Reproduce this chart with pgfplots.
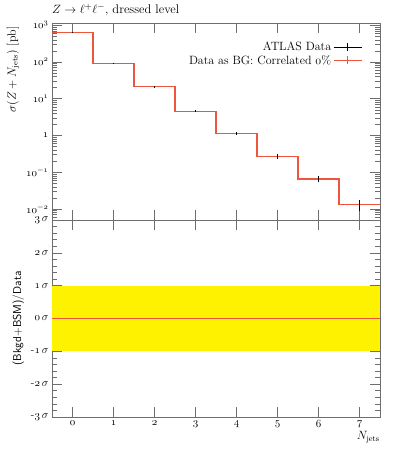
\documentclass[border=0pt]{standalone}
\usepackage{amsmath}
\usepackage{pgfplots}
\pgfplotsset{compat=1.18}
\definecolor{rivred}{RGB}{238,85,60}
\definecolor{axgray}{RGB}{110,110,110}
\pgfplotsset{crosslegend/.style={legend image code/.code={\draw[##1] (0pt,0pt) -- (28pt,0pt); \draw[##1] (14pt,-4pt) -- (14pt,4pt);}}}
\begin{document}
\begin{tikzpicture}
\useasboundingbox (-52pt,-33pt) rectangle (340pt,417pt);
\pgfplotsset{
  every axis/.append style={
    scale only axis, width=328pt, height=197pt,
    xmin=-0.5, xmax=7.5,
    axis line style={axgray},
    every tick/.style={axgray, line width=0.5pt},
    major tick length=10pt, minor tick length=5pt,
    tick align=inside, xtick pos=both, ytick pos=both,
    xtick={0,...,7},
    tick label style={font=\fontsize{11}{13}\selectfont},
  }
}
% lower panel
\begin{axis}[name=lower, at={(0pt,0pt)}, anchor=south west,
  ymin=-3, ymax=3, ytick={-3,...,3}, minor y tick num=4,
  yticklabels={{-$\mathnormal{3}\,\sigma$},{-$\mathnormal{2}\,\sigma$},{-$\mathnormal{1}\,\sigma$},{$\mathnormal{0}\,\sigma$},{$\mathnormal{1}\,\sigma$},{$\mathnormal{2}\,\sigma$},{$\mathnormal{3}\,\sigma$}},
  xticklabels={$\mathnormal{0}$,$\mathnormal{1}$,$\mathnormal{2}$,$\mathnormal{3}$,$\mathnormal{4}$,$\mathnormal{5}$,$\mathnormal{6}$,$\mathnormal{7}$},
  xlabel={$N_{\text{jets}}$},
  xlabel style={at={(rel axis cs:1,0)}, anchor=north east, yshift=-14pt, inner sep=0pt, font=\fontsize{12}{14}\selectfont},
  ylabel={\sffamily (Bkgd+BSM)/Data},
  ylabel style={font=\fontsize{11.5}{13}\selectfont},
]
\addplot[fill=yellow, draw=none] coordinates {(-0.5,-1) (7.5,-1) (7.5,1) (-0.5,1)} -- cycle;
\addplot[rivred, line width=1.2pt] coordinates {(-0.5,0) (7.5,0)};
\end{axis}
% upper panel
\begin{axis}[name=upper, at={(0pt,197pt)}, anchor=south west,
  ymode=log, ymin=0.005, ymax=1150,
  ytick={0.01,0.1,1,10,100,1000},
  yticklabels={$\mathnormal{10}^{-\mathnormal{2}}$,$\mathnormal{10}^{-\mathnormal{1}}$,$\mathnormal{1}$,$\mathnormal{10}^{\mathnormal{1}}$,$\mathnormal{10}^{\mathnormal{2}}$,$\mathnormal{10}^{\mathnormal{3}}$},
  minor ytick={0.006,0.007,0.008,0.009,0.02,0.03,0.04,0.05,0.06,0.07,0.08,0.09,0.2,0.3,0.4,0.5,0.6,0.7,0.8,0.9,2,3,4,5,6,7,8,9,20,30,40,50,60,70,80,90,200,300,400,500,600,700,800,900},
  xticklabels={},
  ylabel={$\sigma(Z + N_{\text{jets}})$ [pb]},
  ylabel style={at={(ticklabel cs:1)}, anchor=south east, font=\fontsize{12}{14}\selectfont},
  legend style={at={(0.955,0.925)}, anchor=north east, draw=none, fill=none,
    font=\fontsize{12}{14}\selectfont, row sep=-1pt},
  legend cell align=right, legend plot pos=right,
]
\addlegendimage{black, crosslegend}
\addlegendentry{ATLAS Data}
\addlegendimage{rivred, line width=0.9pt, crosslegend}
\addlegendentry{Data as BG: Correlated $\mathnormal{0}$\%}
\addplot[rivred, line width=1.2pt, const plot, forget plot] coordinates {
 (-0.5,650) (0.5,92) (1.5,21) (2.5,4.6) (3.5,1.15) (4.5,0.27) (5.5,0.065) (6.5,0.013) (7.5,0.013)};
\addplot[black, mark=none, draw=none, forget plot,
  error bars/.cd, y dir=both, y explicit, error mark=none,
  error bar style={black, line width=0.6pt}]
 table[x=x, y=y, y error=e] {
 x y e
 0 650 15
 1 92 3
 2 21 1.2
 3 4.6 0.35
 4 1.15 0.1
 5 0.27 0.04
 6 0.065 0.012
 7 0.013 0.004
};
\end{axis}
\node[anchor=base west, font=\fontsize{12.5}{14}\selectfont, inner sep=0pt] at ([yshift=9pt]upper.north west) {$Z \to \ell^+\ell^-$, dressed level};
\end{tikzpicture}
\end{document}
